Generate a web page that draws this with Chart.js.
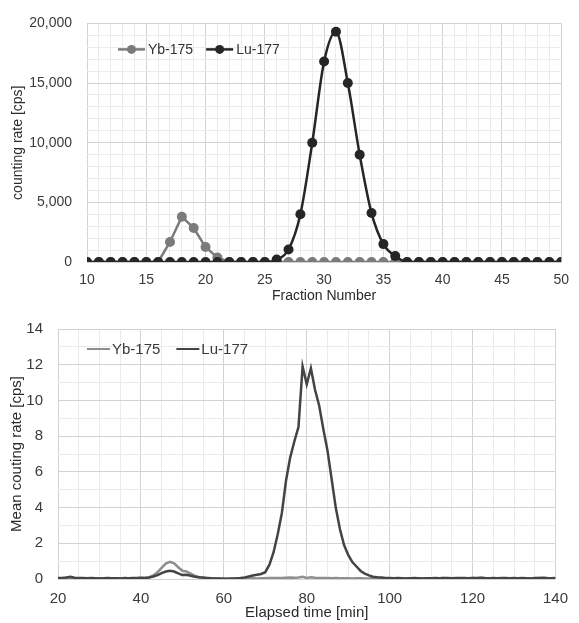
<!DOCTYPE html>
<html>
<head>
<meta charset="utf-8">
<script src="https://cdn.jsdelivr.net/npm/chart.js@4.4.1/dist/chart.umd.min.js"></script>
<style>
  html, body { margin: 0; padding: 0; background: #fff; }
  #wrap { position: relative; width: 579px; height: 623px; }
  #fraction-chart { position: absolute; left: 0; top: 0; }
  #elution-chart { position: absolute; left: 0; top: 305px; }
</style>
</head>
<body>
<div id="wrap">
  <canvas id="fraction-chart" width="579" height="305"></canvas>
  <canvas id="elution-chart" width="579" height="318"></canvas>
</div>
<script>
// --- top panel: counting rate per fraction ---
const fractionNo = [10, 11, 12, 13, 14, 15, 16, 17, 18, 19, 20, 21, 22, 23, 24, 25, 26, 27, 28, 29,
    30, 31, 32, 33, 34, 35, 36, 37, 38, 39, 40, 41, 42, 43, 44, 45, 46, 47, 48, 49, 50];
const ybFraction = [0, 0, 0, 0, 0, 0, 0, 1680, 3800, 2850, 1250, 380, 0, 0, 0, 0, 0, 0, 0, 0,
    0, 0, 0, 0, 0, 0, 0, 0, 0, 0, 0, 0, 0, 0, 0, 0, 0, 0, 0, 0, 0];
const luFraction = [0, 0, 0, 0, 0, 0, 0, 0, 0, 0, 0, 0, 0, 0, 0, 0, 200, 1050, 4000, 10000,
    16800, 19300, 15000, 9000, 4100, 1500, 500, 0, 0, 0, 0, 0, 0, 0, 0, 0, 0, 0, 0, 0, 0];

// --- bottom panel: mean counting rate vs elapsed time ---
const elapsedMin = [20, 21, 22, 23, 24, 25, 26, 27, 28, 29, 30, 31, 32, 33, 34, 35, 36, 37, 38, 39,
    40, 41, 42, 43, 44, 45, 46, 47, 48, 49, 50, 51, 52, 53, 54, 55, 56, 57, 58, 59,
    60, 61, 62, 63, 64, 65, 66, 67, 68, 69, 70, 71, 72, 73, 74, 75, 76, 77, 78, 79,
    80, 81, 82, 83, 84, 85, 86, 87, 88, 89, 90, 91, 92, 93, 94, 95, 96, 97, 98, 99,
    100, 101, 102, 103, 104, 105, 106, 107, 108, 109, 110, 111, 112, 113, 114, 115, 116, 117, 118, 119,
    120, 121, 122, 123, 124, 125, 126, 127, 128, 129, 130, 131, 132, 133, 134, 135, 136, 137, 138, 139, 140];
const ybRate = [0.03, 0.04, 0.05, 0.06, 0.04, 0.03, 0.04, 0.03, 0.04, 0.03,
    0.03, 0.02, 0.03, 0.03, 0.02, 0.03, 0.03, 0.04, 0.03, 0.04,
    0.05, 0.06, 0.1, 0.2, 0.38, 0.62, 0.86, 0.96, 0.88, 0.66,
    0.46, 0.42, 0.3, 0.18, 0.1, 0.06, 0.04, 0.03, 0.03, 0.02,
    0.02, 0.02, 0.02, 0.03, 0.03, 0.03, 0.03, 0.04, 0.03, 0.04,
    0.04, 0.05, 0.05, 0.06, 0.06, 0.07, 0.08, 0.07, 0.09, 0.12,
    0.06, 0.1, 0.07, 0.06, 0.05, 0.05, 0.04, 0.05, 0.04, 0.04,
    0.04, 0.03, 0.04, 0.04, 0.03, 0.03, 0.04, 0.05, 0.06, 0.04,
    0.03, 0.04, 0.03, 0.03, 0.04, 0.03, 0.03, 0.04, 0.03, 0.03,
    0.04, 0.03, 0.04, 0.05, 0.03, 0.04, 0.03, 0.04, 0.03, 0.04,
    0.05, 0.04, 0.05, 0.04, 0.03, 0.04, 0.03, 0.04, 0.04, 0.03,
    0.04, 0.03, 0.04, 0.03, 0.03, 0.04, 0.05, 0.04, 0.03, 0.04, 0.04];
const luRate = [0.05, 0.06, 0.09, 0.13, 0.07, 0.05, 0.06, 0.04, 0.05, 0.04,
    0.03, 0.04, 0.05, 0.04, 0.04, 0.03, 0.05, 0.04, 0.06, 0.05,
    0.07, 0.06, 0.09, 0.14, 0.22, 0.33, 0.42, 0.46, 0.42, 0.31,
    0.22, 0.24, 0.18, 0.13, 0.1, 0.08, 0.06, 0.04, 0.03, 0.03,
    0.02, 0.02, 0.03, 0.04, 0.06, 0.09, 0.14, 0.2, 0.24, 0.28,
    0.38, 0.8, 1.5, 2.5, 3.7, 5.5, 6.8, 7.7, 8.5, 11.9,
    10.9, 11.8, 10.6, 9.7, 8.4, 7.2, 5.6, 4.0, 2.8, 1.9,
    1.35, 0.95, 0.7, 0.45, 0.3, 0.2, 0.13, 0.1, 0.08, 0.06,
    0.05, 0.04, 0.05, 0.04, 0.03, 0.04, 0.05, 0.04, 0.03, 0.04,
    0.04, 0.05, 0.04, 0.05, 0.06, 0.04, 0.05, 0.06, 0.05, 0.04,
    0.06, 0.05, 0.07, 0.05, 0.04, 0.05, 0.04, 0.06, 0.05, 0.04,
    0.05, 0.04, 0.05, 0.04, 0.03, 0.05, 0.06, 0.07, 0.05, 0.04, 0.05];

const FONT = '"Liberation Sans", Arial, sans-serif';
const GRID_MAJOR = '#d2d2d2';
const GRID_MINOR = '#ebebeb';
const YB_TOP = '#7b7b7b', LU_TOP = '#262626';
const YB_BOT = '#8e8e8e', LU_BOT = '#444444';

const toPoints = (xs, ys) => xs.map((x, i) => ({ x, y: ys[i] }));
const gridColor = (step) => (ctx) => (ctx.tick && Math.abs(ctx.tick.value % step) < 1e-9 ? GRID_MAJOR : GRID_MINOR);

// legend drawn inside the plot area, Excel style (line sample, optional marker, label)
const innerLegend = {
    id: 'innerLegend',
    afterDraw(chart, args, opts) {
        const { ctx, chartArea } = chart;
        let x = chartArea.left + opts.dx;
        const y = chartArea.top + opts.dy;
        ctx.save();
        ctx.font = opts.font;
        ctx.textBaseline = 'middle';
        opts.items.forEach(item => {
            ctx.strokeStyle = item.color;
            ctx.lineWidth = opts.lineWidth;
            ctx.beginPath();
            ctx.moveTo(x, y);
            ctx.lineTo(x + opts.lineLen, y);
            ctx.stroke();
            if (opts.marker) {
                ctx.fillStyle = item.color;
                ctx.beginPath();
                ctx.arc(x + opts.lineLen / 2, y, opts.marker, 0, Math.PI * 2);
                ctx.fill();
            }
            ctx.fillStyle = opts.textColor;
            ctx.fillText(item.label, x + opts.lineLen + opts.textGap, y + 1);
            x += opts.lineLen + opts.textGap + ctx.measureText(item.label).width + opts.itemGap;
        });
        ctx.restore();
    }
};

new Chart(document.getElementById('fraction-chart'), {
    type: 'line',
    data: {
        datasets: [{
            label: 'Yb-175',
            data: toPoints(fractionNo, ybFraction),
            borderColor: YB_TOP,
            backgroundColor: YB_TOP,
            borderWidth: 2.5,
            pointRadius: 5,
            pointBorderWidth: 0,
            tension: 0,
            order: 1
        }, {
            label: 'Lu-177',
            data: toPoints(fractionNo, luFraction),
            borderColor: LU_TOP,
            backgroundColor: LU_TOP,
            borderWidth: 2.5,
            pointRadius: 5,
            pointBorderWidth: 0,
            cubicInterpolationMode: 'monotone',
            order: 0
        }]
    },
    options: {
        responsive: false,
        animation: false,
        layout: { padding: { top: 17, right: 13, left: 0, bottom: 0 } },
        plugins: {
            legend: { display: false },
            tooltip: { enabled: false },
            innerLegend: {
                dx: 31, dy: 26, lineLen: 27, textGap: 3, itemGap: 13, lineWidth: 2.5, marker: 4.5,
                font: '14px ' + FONT, textColor: '#333',
                items: [{ label: 'Yb-175', color: YB_TOP }, { label: 'Lu-177', color: LU_TOP }]
            }
        },
        scales: {
            x: {
                type: 'linear', min: 10, max: 50,
                border: { display: false },
                grid: { color: gridColor(5), drawTicks: false },
                ticks: {
                    stepSize: 1, maxTicksLimit: 100, autoSkip: false, maxRotation: 0, padding: 10,
                    color: '#3a3a3a', font: { family: FONT, size: 14 },
                    callback: v => (v % 5 === 0 ? String(v) : '')
                },
                title: {
                    display: true, text: 'Fraction Number', color: '#2a2a2a',
                    font: { family: FONT, size: 14 }, padding: { top: 0, bottom: 0 }
                },
                afterFit: s => { s.height = 43; }
            },
            y: {
                min: 0, max: 20000,
                border: { display: false },
                grid: { color: gridColor(5000), drawTicks: false },
                ticks: {
                    stepSize: 1000, maxTicksLimit: 100, autoSkip: false, padding: 15,
                    color: '#3a3a3a', font: { family: FONT, size: 14 },
                    callback: v => (v % 5000 === 0 ? v.toLocaleString('en-US') : '')
                },
                title: {
                    display: true, text: 'counting rate [cps]', color: '#2a2a2a',
                    font: { family: FONT, size: 14 }, padding: { top: 10, bottom: 0 }
                },
                afterFit: s => { s.width = 87; }
            }
        }
    },
    plugins: [innerLegend]
});

new Chart(document.getElementById('elution-chart'), {
    type: 'line',
    data: {
        datasets: [{
            label: 'Yb-175',
            data: toPoints(elapsedMin, ybRate),
            borderColor: YB_BOT,
            borderWidth: 2.5,
            pointRadius: 0,
            tension: 0,
            order: 1
        }, {
            label: 'Lu-177',
            data: toPoints(elapsedMin, luRate),
            borderColor: LU_BOT,
            borderWidth: 2.5,
            pointRadius: 0,
            tension: 0,
            order: 0
        }]
    },
    options: {
        responsive: false,
        animation: false,
        layout: { padding: { top: 17, right: 14, left: 0, bottom: 0 } },
        plugins: {
            legend: { display: false },
            tooltip: { enabled: false },
            innerLegend: {
                dx: 29, dy: 20, lineLen: 23, textGap: 2, itemGap: 16, lineWidth: 2, marker: 0,
                font: '15px ' + FONT, textColor: '#3a3a3a',
                items: [{ label: 'Yb-175', color: YB_BOT }, { label: 'Lu-177', color: LU_BOT }]
            }
        },
        scales: {
            x: {
                type: 'linear', min: 20, max: 140,
                border: { display: false },
                grid: { color: gridColor(20), drawTicks: false },
                ticks: {
                    stepSize: 5, maxTicksLimit: 100, autoSkip: false, maxRotation: 0, padding: 11,
                    color: '#3a3a3a', font: { family: FONT, size: 15 },
                    callback: v => (v % 20 === 0 ? String(v) : '')
                },
                title: {
                    display: true, text: 'Elapsed time [min]', color: '#2a2a2a',
                    font: { family: FONT, size: 15 }, padding: { top: 0, bottom: 1 }
                },
                afterFit: s => { s.height = 44; }
            },
            y: {
                min: 0, max: 14,
                border: { display: false },
                grid: { color: gridColor(2), drawTicks: false },
                ticks: {
                    stepSize: 1, maxTicksLimit: 100, autoSkip: false, padding: 15,
                    color: '#3a3a3a', font: { family: FONT, size: 15 },
                    callback: v => (v % 2 === 0 ? String(v) : '')
                },
                title: {
                    display: true, text: 'Mean couting rate [cps]', color: '#2a2a2a',
                    font: { family: FONT, size: 15 }, padding: { top: 8, bottom: 0 }
                },
                afterFit: s => { s.width = 58; }
            }
        }
    },
    plugins: [innerLegend]
});
</script>
</body>
</html>
